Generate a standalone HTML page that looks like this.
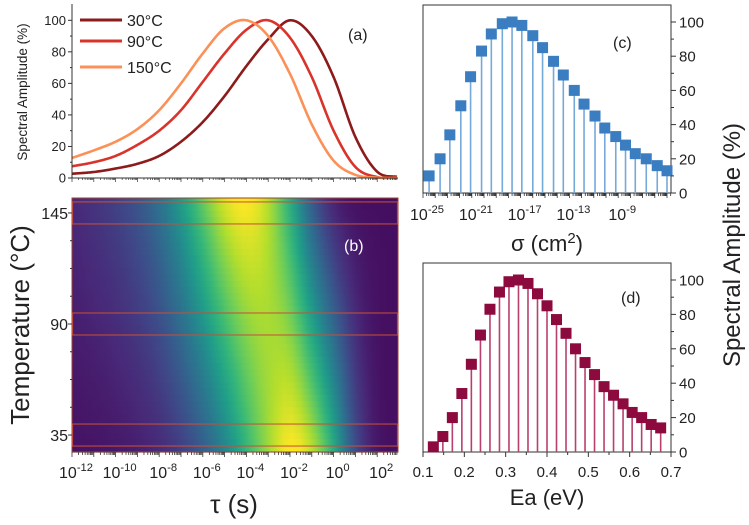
<!DOCTYPE html>
<html><head><meta charset="utf-8">
<style>
html,body{margin:0;padding:0;background:#fff;}
svg{display:block;font-family:"Liberation Sans",sans-serif;}
</style></head>
<body>
<svg id="fig" width="749" height="525" viewBox="0 0 749 525" xmlns="http://www.w3.org/2000/svg">
<defs id="defs"></defs>
<g id="root"></g>
</svg>
<script>
// ---------- DATA ----------
const tauLog = [-12,-11,-10,-9,-8,-7,-6,-5,-4,-3,-2,-1,0,1,2,3];
const amp30  = [2.7,3.8,6,9,14,23,35.5,52,71,88,100,90,64,26,4,0.5];
const amp90  = [7.4,10,14,21,30,43,61,79,94,100,89,64,30,7,0.6,0];
const amp150 = [12.7,17.5,23,31,43,60,79,95,100,90,66,34,11,2,0.2,0];
const seriesNames = ["30°C","90°C","150°C"];
const sliceTemps = [145,90,35];
const tempTicks = [35,90,145];
const tauTickExp = [-12,-10,-8,-6,-4,-2,0,2];
const sigmaExp = [-24.5,-23.6,-22.8,-21.9,-21.1,-20.2,-19.4,-18.5,-17.7,-16.9,-16.0,-15.2,-14.3,-13.5,-12.6,-11.8,-10.9,-10.1,-9.2,-8.4,-7.6,-6.7,-5.8,-5.0];
const sigmaAmp = [10,20,34,51,68,83,93,99,100,98,92,85,77,69,60,52,45,38,33,28,23,20,16,13];
const sigmaTickExp = [-25,-21,-17,-13,-9];
const eaVals = [0.125,0.148,0.171,0.194,0.217,0.239,0.262,0.285,0.308,0.331,0.354,0.377,0.400,0.423,0.446,0.469,0.492,0.515,0.538,0.561,0.584,0.606,0.629,0.652,0.675];
const eaAmp  = [3,9,20,34,51,68,83,93,99,100,98,92,85,77,69,60,52,45,38,33,28,23,20,16,14];
const eaTicks = [0.1,0.2,0.3,0.4,0.5,0.6,0.7];
const ampTicks = [0,20,40,60,80,100];

// ---------- helpers ----------
const NS="http://www.w3.org/2000/svg";
const root=document.getElementById('root');
function el(tag,attrs,parent){const e=document.createElementNS(NS,tag);for(const k in attrs)e.setAttribute(k,attrs[k]);(parent||root).appendChild(e);return e;}
function txt(s,attrs,parent){const e=el('text',attrs,parent);e.textContent=s;return e;}
function pow10(exp,x,y,size,anchor,parent){
  const t=el('text',{x:x,y:y,'font-size':size,'text-anchor':anchor||'middle',fill:'#222'},parent);
  const a=document.createElementNS(NS,'tspan');a.textContent='10';t.appendChild(a);
  const b=document.createElementNS(NS,'tspan');b.setAttribute('dy',-size*0.45);b.setAttribute('font-size',size*0.7);b.textContent=exp;t.appendChild(b);
  return t;}
function interp(xs,ys,x){
  if(x<=xs[0])return ys[0]; if(x>=xs[xs.length-1])return ys[ys.length-1];
  let i=0;while(xs[i+1]<x)i++;
  const h=xs[i+1]-xs[i],t=(x-xs[i])/h;
  const m0=i>0?(ys[i+1]-ys[i-1])/(xs[i+1]-xs[i-1]):(ys[i+1]-ys[i])/h;
  const m1=i<xs.length-2?(ys[i+2]-ys[i])/(xs[i+2]-xs[i]):(ys[i+1]-ys[i])/h;
  const t2=t*t,t3=t2*t;
  return (2*t3-3*t2+1)*ys[i]+(t3-2*t2+t)*h*m0+(-2*t3+3*t2)*ys[i+1]+(t3-t2)*h*m1;}

const TX0=72,TX1=397,TLMIN=-12,TPD=21.8;
const xTau=l=>TX0+(l-TLMIN)*TPD;

// ---------- panel (a) ----------
const ga=el('g',{});
const AY0=178,AY100=20.3;
const yA=v=>AY0-(AY0-AY100)*v/100;
const colors=['#8e1b1b','#d9342b','#fb9157'];
[amp30,amp90,amp150].forEach((s,si)=>{
  let d='';for(let px=TX0;px<=TX1;px+=1){const l=TLMIN+(px-TX0)/TPD;let v=interp(tauLog,s,l);if(v<0)v=0;d+=(px==TX0?'M':'L')+px+','+yA(v).toFixed(2);}
  const p=el('path',{d:d,fill:'none',stroke:colors[si],'stroke-width':2.6},ga);
  
  
});
el('line',{x1:TX0,y1:4,x2:TX0,y2:AY0,stroke:'#333','stroke-width':1},ga);
el('line',{x1:TX0,y1:AY0,x2:TX1+1,y2:AY0,stroke:'#333','stroke-width':1},ga);
ampTicks.forEach(v=>{const y=yA(v);el('line',{x1:TX0-4,y1:y,x2:TX0,y2:y,stroke:'#333'},ga);
  const t=txt(v,{x:TX0-6,y:y+4.5,'font-size':13,'text-anchor':'end',fill:'#222'},ga);
  if(v<100)el('line',{x1:TX0-2,y1:yA(v+10),x2:TX0,y2:yA(v+10),stroke:'#333'},ga);});
for(let l=-12;l<=2.9;l+=1){for(let k=1;k<10;k++){const x=xTau(l+Math.log10(k));if(x>TX1)break;el('line',{x1:x,y1:AY0,x2:x,y2:AY0+(k==1?4:2),stroke:'#333','stroke-width':0.7},ga);}}
const yat=txt('Spectral Amplitude (%)',{x:0,y:0,'font-size':13.5,'text-anchor':'middle',fill:'#222',transform:'translate(27,92) rotate(-90)'},ga);

seriesNames.forEach((n,i)=>{const y=[20,41,67][i];const g=el('g',{},ga);
  el('line',{x1:80,y1:y,x2:122,y2:y,stroke:colors[i],'stroke-width':3},g);
  txt(n,{x:127,y:y+6,'font-size':16,fill:'#222'},g);});
const la=txt('(a)',{x:348,y:40,'font-size':16,fill:'#222'},ga);

// ---------- panel (b) heatmap ----------
const gb=el('g',{});
const BY0=198,BY1=452,TMAX=152.4,TMIN=26.6;
const yT=t=>BY0+(TMAX-t)/(TMAX-TMIN)*(BY1-BY0);
const vir=[[68,1,84],[72,40,120],[62,74,137],[49,104,142],[38,130,142],[31,158,137],[53,183,121],[109,205,89],[180,222,44],[253,231,37]];
function vcol(v){v=Math.max(0,Math.min(1,v));const f=v*(vir.length-1),i=Math.min(vir.length-2,Math.floor(f)),t=f-i;
  return 'rgb('+vir[i].map((c,j)=>Math.round(c+(vir[i+1][j]-c)*t)).join(',')+')';}
const defs=document.getElementById('defs');
const rows=40;
for(let r=0;r<rows;r++){
  const ya=BY0+r*(BY1-BY0)/rows, yb=BY0+(r+1)*(BY1-BY0)/rows;
  const T=TMAX-(r+0.5)/rows*(TMAX-TMIN);
  const f=(T-30)/(150-30);
  const gid='hg'+r;const lg=el('linearGradient',{id:gid,x1:0,y1:0,x2:1,y2:0},defs);
  for(let k=0;k<=40;k++){const l=TLMIN+k/40*((TX1-TX0)/TPD);
    const v30=interp(tauLog,amp30,l),v150=interp(tauLog,amp150,l);
    const v=(v30+(v150-v30)*f)/100;
    el('stop',{offset:(k/40),'stop-color':vcol(0.04+0.96*Math.pow(Math.max(v,0),1.25))},lg);}
  el('rect',{x:TX0,y:ya,width:TX1-TX0+1,height:yb-ya+0.6,fill:'url(#'+gid+')'},gb);
}
el('rect',{x:TX0,y:BY0,width:TX1-TX0+1,height:BY1-BY0,fill:'none',stroke:'#a04030','stroke-width':1},gb);
sliceTemps.forEach((T,i)=>{const c=yT(T);const r=el('rect',{x:TX0+0.5,y:c-11,width:TX1-TX0,height:22,fill:'none',stroke:'#c8503a','stroke-width':1.2,opacity:0.85},gb);
  });
tempTicks.forEach(T=>{const y=yT(T);el('line',{x1:TX0-4,y1:y,x2:TX0,y2:y,stroke:'#333'},gb);
  const t=txt(T,{x:TX0-4,y:y+6,'font-size':16,'text-anchor':'end',fill:'#222'},gb);});
for(let T=48.75;T<145;T+=13.75){if(tempTicks.indexOf(T)<0)el('line',{x1:TX0-2,y1:yT(T),x2:TX0,y2:yT(T),stroke:'#333'},gb);}
for(let l=-12;l<=2.9;l+=1){for(let k=1;k<10;k++){const x=xTau(l+Math.log10(k));if(x>TX1)break;el('line',{x1:x,y1:BY1,x2:x,y2:BY1+(k==1?5:3),stroke:'#333','stroke-width':0.8},gb);}}
tauTickExp.forEach(e=>{const t=pow10(e,xTau(e)+4,478,16,'middle',gb);});
const xt=txt('τ (s)',{x:234,y:513,'font-size':26,'text-anchor':'middle',fill:'#222'},gb);
const tt=txt('Temperature (°C)',{x:0,y:0,'font-size':26,'text-anchor':'middle',fill:'#222',transform:'translate(29,325) rotate(-90)'},gb);
const lb=txt('(b)',{x:344,y:251,'font-size':16,fill:'#fff'},gb);

// ---------- panels (c) and (d) ----------
const PX0=423,PX1=671;
function stemPanel(name,top,y0,y100,xs,vals,xf,mcol,scol){
  const g=el('g',{});
  const yv=v=>y0-(y0-y100)*v/100;
  el('rect',{x:PX0,y:top,width:PX1-PX0,height:y0-top,fill:'none',stroke:'#333','stroke-width':1},g);
  xs.forEach((x,i)=>{const px=xf(x),py=yv(vals[i]);
    const s=el('line',{x1:px,y1:y0,x2:px,y2:py,stroke:scol,'stroke-width':1.6},g);
    
    const m=el('rect',{x:px-5.5,y:py-5.5,width:11,height:11,fill:mcol},g);
    });
  ampTicks.forEach(v=>{const y=yv(v);el('line',{x1:PX1,y1:y,x2:PX1+5,y2:y,stroke:'#333'},g);
    if(v<100)el('line',{x1:PX1,y1:yv(v+10),x2:PX1+3,y2:yv(v+10),stroke:'#333'},g);
    const t=txt(v,{x:PX1+8,y:y+5.5,'font-size':15,fill:'#222'},g);});
  return g;}
const xSig=e=>PX0+(e+25)*12.2;
const gc=stemPanel('panel-c',5,193,22,sigmaExp,sigmaAmp,xSig,'#3a7dc0','#74a9da');
for(let e=-25;e<-4.7;e+=1){for(let k=1;k<10;k++){const x=xSig(e+Math.log10(k));if(x>PX1)break;el('line',{x1:x,y1:193,x2:x,y2:193+(k==1?5:3),stroke:'#333','stroke-width':0.8},gc);}}
sigmaTickExp.forEach(e=>{const t=pow10(e,xSig(e)+4,220,16,'middle',gc);});
const st=el('text',{x:547,y:251,'font-size':22,'text-anchor':'middle',fill:'#222'},gc);
st.textContent='σ (cm';const sup=document.createElementNS(NS,'tspan');sup.setAttribute('dy',-8);sup.setAttribute('font-size',15);sup.textContent='2';st.appendChild(sup);
const cl=document.createElementNS(NS,'tspan');cl.setAttribute('dy',8);cl.textContent=')';st.appendChild(cl);
const lc=txt('(c)',{x:613,y:48,'font-size':16,fill:'#222'},gc);

const xEa=v=>PX0+(v-0.1)/0.6*(PX1-PX0);
const gd=stemPanel('panel-d',263,452,280,eaVals,eaAmp,xEa,'#8c0a3e','#b8406e');
eaTicks.forEach(v=>{const x=xEa(v);el('line',{x1:x,y1:452,x2:x,y2:457,stroke:'#333'},gd);
  if(v<0.7)el('line',{x1:xEa(v+0.05),y1:452,x2:xEa(v+0.05),y2:455,stroke:'#333'},gd);
  const t=txt(v.toFixed(1),{x:x,y:477,'font-size':15,'text-anchor':'middle',fill:'#222'},gd);});
const et=txt('Ea (eV)',{x:547,y:505,'font-size':22,'text-anchor':'middle',fill:'#222'},gd);
const ld=txt('(d)',{x:621,y:303,'font-size':16,fill:'#222'},gd);

const rt=txt('Spectral Amplitude (%)',{x:0,y:0,'font-size':24,'text-anchor':'middle',fill:'#222',transform:'translate(740,245) rotate(-90)'});

</script>
</body></html>
